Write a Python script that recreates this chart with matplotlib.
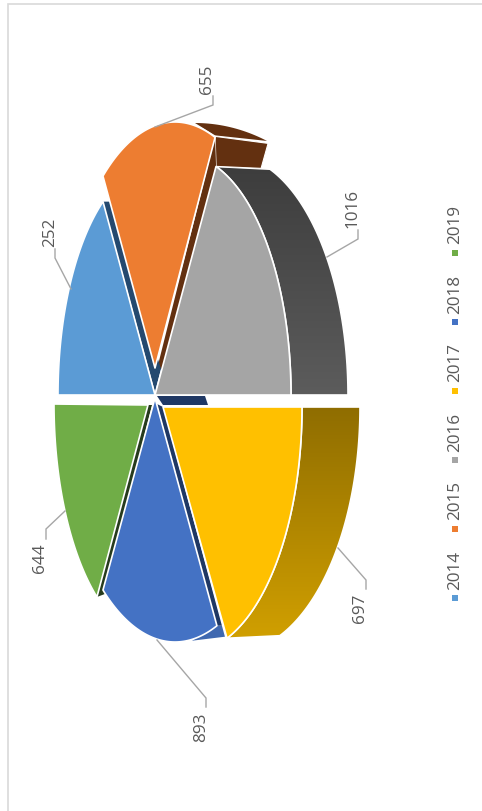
import numpy as np
import matplotlib
matplotlib.use("Agg")
import matplotlib.pyplot as plt
from matplotlib.patches import Polygon, Rectangle

years = ["2014", "2015", "2016", "2017", "2018", "2019"]
values = [252, 655, 1016, 697, 893, 644]
colors = ["#5b9bd5", "#ed7d31", "#a5a5a5", "#ffc000", "#4472c4", "#70ad47"]
# angular extent of each drawn slice (degrees, as seen in the picture)
starts = [180, 128.8, 0, 289.3, 232, 180]
ends = [122.4, 69.6, 72.2, 360, 291, 235.2]

# projection geometry of each slice
apex = [(155, 396), (155, 369), (155, 396), (163, 408), (155, 399), (148, 406)]
centre = [(155, 396), (175, 368), (183, 396), (190, 408), (175, 398), (154, 405)]
radii = [(97, 229), (115, 245), (108, 240), (112, 245), (117, 245), (100, 235)]

plt.rcParams["font.family"] = ["Open Sans", "DejaVu Sans"]
fig = plt.figure(figsize=(4.82, 8.12), dpi=100)
ax = fig.add_axes([0, 0, 1, 1])
ax.set_axis_off()
TXT = "#595959"
LINE = "#a6a6a6"
WHITE = "#ffffff"


def arc(c, r, t1, t2, n=60):
    t = np.radians(np.linspace(t1, t2, n))
    return np.column_stack([c[0] + r[0] * np.cos(t), c[1] - r[1] * np.sin(t)])


def poly(pts, color, z, ec=WHITE, lw=1.2):
    p = Polygon(pts, closed=True, fc=color, ec=ec, lw=lw, zorder=z, joinstyle="round")
    ax.add_patch(p)
    return p


def gradient_wall(pts, c_top, c_bottom, z):
    pts = np.asarray(pts)
    p = poly(pts, "none", z + 0.1)
    clip = Polygon(pts, closed=True, transform=ax.transData, fc="none", ec="none")
    ax.add_patch(clip)
    rgb0 = np.array(matplotlib.colors.to_rgb(c_top))
    rgb1 = np.array(matplotlib.colors.to_rgb(c_bottom))
    f = np.linspace(0, 1, 128)[:, None, None]
    img = rgb0[None, None, :] * (1 - f) + rgb1[None, None, :] * f
    x0, y0 = pts.min(axis=0)
    x1, y1 = pts.max(axis=0)
    im = ax.imshow(img, extent=(x0, x1, y1, y0), aspect="auto", zorder=z,
                   origin="upper")
    im.set_clip_path(clip)
    return p


def edge_point(i, which):
    t = starts[i] if which == 0 else ends[i]
    return arc(centre[i], radii[i], t, t, 1)[0]


# ---- frame (open towards the right and the bottom of the picture)
ax.add_patch(Rectangle((8, 5), 600, 900, fc="white", ec="#d9d9d9", lw=1.2, zorder=0))

# ---- side walls
# 2016 outer wall
gray_face = arc(centre[2], radii[2], starts[2], ends[2])
gray_outer = arc((230, 396), (118, 240), 0, 70.2)
gradient_wall(np.vstack([gray_face, gray_outer[::-1]]), "#3d3d3d", "#5c5c5c", 2)

# 2017 outer wall
yel_face = arc(centre[3], radii[3], starts[3], ends[3])
yel_outer = arc((235, 408), (125, 245), 291, 360)
gradient_wall(np.vstack([yel_face, yel_outer[::-1]]), "#8f6d00", "#d09f00", 2)

# 2015 side pieces
P = edge_point(1, 1)
brown = "#633010"
poly([P + (0, -1), P + (53, 6), P + (46, 31), P + (1, 29)], brown, 3, lw=0.8)
poly(np.vstack([arc((195, 362), (189, 238), 90, 67.6, 24), [P + (0, -2)]]),
     brown, 2.5, ec="none", lw=0)
poly([(apex[1][0] + 2, apex[1][1] + 1), (apex[1][0] + 7, apex[1][1] + 1),
      P + (1, 29), P], brown, 3, ec="none", lw=0)

# 2014 side piece
E = edge_point(0, 1)
poly([E, E + (7, 0), (apex[0][0] + 6, apex[0][1] - 26), (apex[0][0], apex[0][1] - 3)],
     "#24496f", 3, ec="none", lw=0)

# 2018 side pieces
navy = "#1f3864"
Q = edge_point(4, 1)
poly([(157, 397), (205, 397), (208, 406), (163, 406)], navy, 3, ec="none", lw=0)
poly([(apex[4][0] + 2, apex[4][1] + 6), (apex[3][0], apex[3][1]), Q + (5, 0), Q],
     navy, 3, ec="none", lw=0)
poly([Q + (-25, 15), Q, Q + (5, 0), Q + (8, 11)], "#3f68b0", 3, ec="none", lw=0)

# 2019 side piece
G = edge_point(5, 1)
poly([apex[5], (apex[5][0] + 4, apex[5][1]), G + (8, -3), G], "#263b1d", 3, ec="none", lw=0)

# ---- top faces
order = [2, 1, 0, 5, 3, 4]
for i in order:
    pts = np.vstack([[apex[i]], arc(centre[i], radii[i], starts[i], ends[i])])
    poly(pts, colors[i], 5)

# ---- leaders and value labels
leaders = [
    [(71, 290), (55, 259), (55, 250)],
    [(155, 128), (213, 106), (213, 97)],
    [(327, 258), (358, 240), (358, 231)],
    [(338, 549), (366, 581), (366, 590)],
    [(157, 641), (206, 699), (206, 708)],
    [(65, 512), (46, 530), (46, 540)],
]
label_pos = [(50, 232), (207, 79), (352, 208), (360, 608), (201, 727), (40, 558)]
for v, pts, pos in zip(values, leaders, label_pos):
    xs, ys = zip(*pts)
    ax.plot(xs, ys, color=LINE, lw=1.0, zorder=6, solid_joinstyle="miter")
    ax.text(pos[0], pos[1], str(v), rotation=90, ha="center", va="center",
            fontsize=12.3, color=TXT, zorder=7)

# ---- legend
sq_y = [599, 530, 461, 392, 323, 254]
for y, name, c in zip(sq_y, years, colors):
    ax.add_patch(Rectangle((452, y - 3), 6, 6, fc=c, ec="none", zorder=7))
    ax.text(455, y - 29, name, rotation=90, ha="center", va="center",
            fontsize=12.3, color=TXT, zorder=7)

ax.set_xlim(0, 482)
ax.set_ylim(812, 0)
fig.savefig("out.png", dpi=100)
